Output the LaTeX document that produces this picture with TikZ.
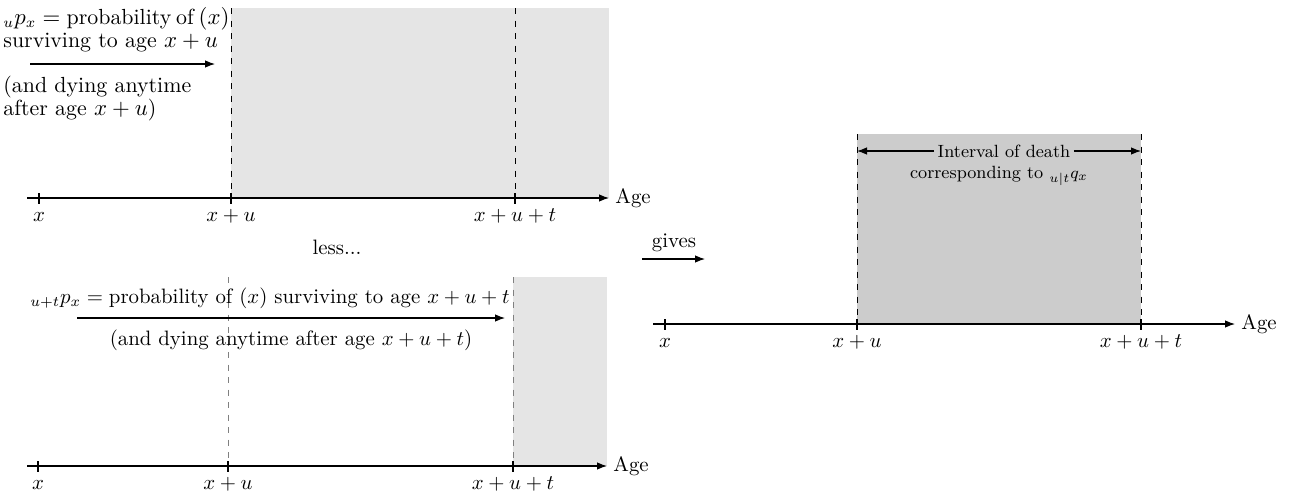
\documentclass[tikz,border=0pt]{standalone}
\usetikzlibrary{arrows.meta}
\begin{document}
\begin{tikzpicture}[x=0.48pt,y=-0.48pt,
  tip/.style={-{Latex[length=4.8pt,width=3.6pt]}},
  axisline/.style={tip, line width=0.5pt},
  arr/.style={tip, line width=0.5pt},
  tickline/.style={line width=0.5pt},
  dashblack/.style={dashed, line width=0.4pt},
  dashgray/.style={dashed, gray, line width=0.4pt},
  lbl/.style={anchor=base, inner sep=0pt, font=\fontsize{10}{11}\selectfont},
  txt/.style={inner sep=0pt, font=\fontsize{10}{11}\selectfont},
  bigtxt/.style={inner sep=0pt, font=\fontsize{10.5}{11}\selectfont},
  agelbl/.style={anchor=west, inner sep=0pt, font=\fontsize{10}{11}\selectfont},
  ]
\useasboundingbox (0,0) rectangle (1292,495);

% ---------------- top panel ----------------
\fill[gray!20] (231,8) rectangle (609,198);
\coordinate (T1a) at (231,8);  \coordinate (T1b) at (231,198);
\coordinate (T2a) at (515,8);  \coordinate (T2b) at (515,198);
\draw[dashblack] (T1a) -- (T1b);
\draw[dashblack] (T2a) -- (T2b);
\coordinate (TAs) at (27,198); \coordinate (TAe) at (609,198);
\draw[axisline] (TAs) -- (TAe);
\node[agelbl] (tage) at (615,198) {Age};
\draw[tickline] (39,193) -- (39,204);
\draw[tickline] (231,193) -- (231,204);
\draw[tickline] (515,193) -- (515,204);
\node[lbl] (tlx) at (39,221) {$x$};
\node[lbl] (tlxu) at (231,221) {$x+u$};
\node[lbl] (tlxut) at (515,221) {$x+u+t$};
\node[bigtxt, anchor=north west, align=left] (ttop) at (3,7)
  {\makebox[105pt][s]{${}_{u}p_{x} = {}$probability of $(x)$}\\ surviving to age $x+u$};
\coordinate (TArs) at (30,64); \coordinate (TAre) at (215,64);
\draw[arr] (TArs) -- (TAre);
\node[bigtxt, anchor=north west, align=left] (tbot) at (3,76)
  {(and dying anytime\\ after age $x+u$)};
\node[txt] (less) at (337,247) {less...};

% ---------------- bottom panel ----------------
\fill[gray!20] (513,277) rectangle (607,466);
\coordinate (B1a) at (228,277); \coordinate (B1b) at (228,466);
\coordinate (B2a) at (513,277); \coordinate (B2b) at (513,466);
\draw[dashgray] (B1a) -- (B1b);
\draw[dashgray] (B2a) -- (B2b);
\coordinate (BAs) at (27,466); \coordinate (BAe) at (607,466);
\draw[axisline] (BAs) -- (BAe);
\node[agelbl] (bage) at (613,466) {Age};
\draw[tickline] (38,461) -- (38,472);
\draw[tickline] (228,461) -- (228,472);
\draw[tickline] (513,461) -- (513,472);
\node[lbl] (blx) at (38,489) {$x$};
\node[lbl] (blxu) at (228,489) {$x+u$};
\node[lbl] (blxut) at (513,489) {$x+u+t$};
\node[txt, anchor=base east] (btop) at (510,303)
  {${}_{u+t}p_{x} = {}$probability of $(x)$ surviving to age $x+u+t$};
\coordinate (BArs) at (77,318); \coordinate (BAre) at (505,318);
\draw[arr] (BArs) -- (BAre);
\node[txt, anchor=base] (bbot) at (291,345)
  {(and dying anytime after age $x+u+t$)};

% ---------------- gives ----------------
\node[txt] (gives) at (674,243) {gives};
\coordinate (Gs) at (642,259); \coordinate (Ge) at (705,259);
\draw[arr] (Gs) -- (Ge);

% ---------------- right panel ----------------
\fill[black!20] (857,134) rectangle (1141,324);
\coordinate (R1a) at (857,134); \coordinate (R1b) at (857,324);
\coordinate (R2a) at (1141,134); \coordinate (R2b) at (1141,324);
\draw[dashblack] (R1a) -- (R1b);
\draw[dashblack] (R2a) -- (R2b);
\coordinate (RAs) at (653,324); \coordinate (RAe) at (1235,324);
\draw[axisline] (RAs) -- (RAe);
\node[agelbl] (rage) at (1241,324) {Age};
\draw[tickline] (665,319) -- (665,330);
\draw[tickline] (857,319) -- (857,330);
\draw[tickline] (1141,319) -- (1141,330);
\node[lbl] (rlx) at (665,347) {$x$};
\node[lbl] (rlxu) at (857,347) {$x+u$};
\node[lbl] (rlxut) at (1141,347) {$x+u+t$};
\coordinate (IL) at (857,151); \coordinate (IR) at (1141,151);
\node[inner ysep=0pt, inner xsep=1.5pt, font=\fontsize{8.5}{10}\selectfont] (intv) at (1004,151) {Interval of death};
\draw[arr] (intv.west) -- (IL);
\draw[arr] (intv.east) -- (IR);
\node[inner sep=0pt, font=\fontsize{8.5}{10}\selectfont] (corr) at (999,176) {corresponding to ${}_{u|t}q_{x}$};
\end{tikzpicture}
\end{document}
